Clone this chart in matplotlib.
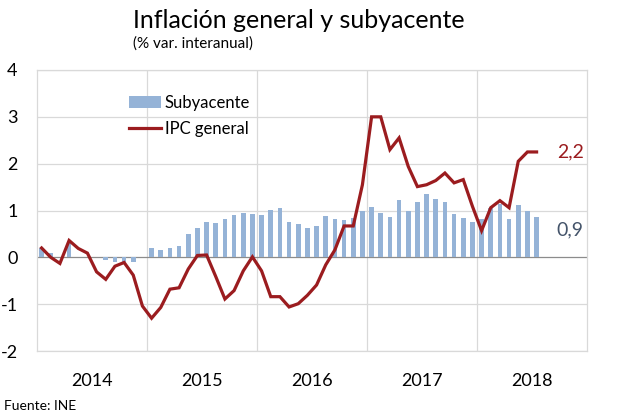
import numpy as np
import matplotlib
matplotlib.use("Agg")
import matplotlib.pyplot as plt
from matplotlib.patches import Patch
from matplotlib.lines import Line2D

plt.rcParams['font.family'] = ['Lato', 'DejaVu Sans']

# monthly data, Jan 2014 - Jul 2018 (% var. interanual)
years = ['2014', '2015', '2016', '2017', '2018']
subyacente = [0.2, 0.1, 0.0, 0.3, 0.0, 0.0, 0.0, -0.05, -0.1, -0.1, -0.1, 0.0,
              0.2, 0.15, 0.2, 0.25, 0.5, 0.63, 0.76, 0.73, 0.82, 0.91, 0.95, 0.93,
              0.91, 1.01, 1.05, 0.75, 0.71, 0.62, 0.67, 0.89, 0.82, 0.8, 0.85, 1.0,
              1.07, 0.94, 0.86, 1.23, 0.99, 1.18, 1.36, 1.24, 1.19, 0.92, 0.84, 0.76,
              0.81, 1.06, 1.13, 0.81, 1.12, 0.99, 0.87]
ipc_general = [0.2, 0.0, -0.13, 0.36, 0.19, 0.09, -0.31, -0.47, -0.19, -0.11, -0.38, -1.04,
               -1.3, -1.07, -0.68, -0.65, -0.25, 0.04, 0.05, -0.41, -0.89, -0.71, -0.29, 0.01,
               -0.29, -0.84, -0.84, -1.06, -0.99, -0.81, -0.59, -0.16, 0.16, 0.67, 0.67, 1.55,
               3.0, 3.0, 2.3, 2.55, 1.94, 1.51, 1.55, 1.64, 1.8, 1.59, 1.66, 1.09,
               0.57, 1.06, 1.21, 1.06, 2.05, 2.25, 2.25]
n_months = len(years) * 12

bar_color = '#95B3D7'
line_color = '#9B1C1F'

fig = plt.figure(figsize=(6.23, 4.17), dpi=100)
ax = fig.add_axes([37/623, 1 - 351/417, 550/623, 281/417])

x = np.arange(len(subyacente))
ax.bar(x, subyacente, width=0.5, color=bar_color, zorder=2)
ax.plot(np.arange(len(ipc_general)), ipc_general, color=line_color, lw=2.3,
        solid_joinstyle='miter', zorder=3)

ax.set_xlim(-0.5, n_months - 0.5)
ax.set_ylim(-2, 4)

# grid
for yv in range(-2, 5):
    if yv != 0:
        ax.axhline(yv, color='#D9D9D9', lw=0.9, zorder=0)
ax.axhline(0, color='#8C8C8C', lw=0.9, zorder=1)
for i in range(1, len(years)):
    ax.axvline(12 * i - 0.5, color='#D9D9D9', lw=0.9, zorder=0)

for s in ax.spines.values():
    s.set_color('#D9D9D9')
    s.set_linewidth(0.9)

ax.set_yticks(range(-2, 5))
ax.set_yticklabels(['-2', '-1', '0', '1', '2', '3', '4'])
ax.tick_params(axis='y', length=0, pad=14, labelsize=13)

ax.set_xticks([12 * i + 5.5 for i in range(len(years))])
ax.set_xticklabels(years)
ax.tick_params(axis='x', length=0, pad=16, labelsize=13)

# end labels
ax.text(len(ipc_general) + 1.2, ipc_general[-1], '2,2', color=line_color,
        fontsize=14, va='center', ha='left')
ax.text(len(subyacente) + 1.2, 0.58, '0,9', color='#44546A',
        fontsize=14, va='center', ha='left')

# legend
handles = [Patch(facecolor=bar_color, edgecolor='none', label='Subyacente'),
           Line2D([0], [0], color=line_color, lw=2.3, label='IPC general')]
ax.legend(handles=handles, loc='upper left', bbox_to_anchor=(0.155, 0.935),
          frameon=False, fontsize=12, handlelength=1.9, handletextpad=0.25,
          labelspacing=0.6, borderaxespad=0)

fig.text(133/623, 1 - 20/417, 'Inflación general y subyacente', fontsize=18,
         va='center', ha='left')
fig.text(133/623, 1 - 44/417, '(% var. interanual)', fontsize=11,
         va='center', ha='left')
fig.text(4/623, 1 - 406/417, 'Fuente: INE', fontsize=10, va='center', ha='left')

fig.savefig('out.png', dpi=100)
